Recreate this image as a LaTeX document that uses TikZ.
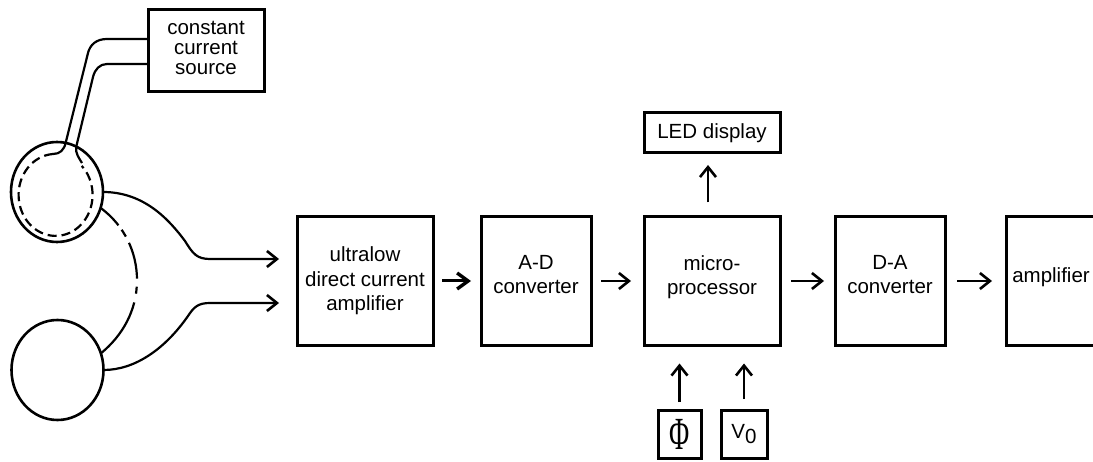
\documentclass[tikz,border=0pt]{standalone}
\usepackage{fontspec}
\setmainfont{Liberation Sans}
\newfontfamily\fontphi{Liberation Serif}
\usetikzlibrary{arrows.meta,shapes.geometric}
\begin{document}
\begin{tikzpicture}[x=1pt,y=1pt]

% définition des styles
\tikzstyle{bloc}=[rectangle,draw,line width=3pt,align=center,inner sep=0pt,outer sep=0pt,font=\fontsize{20.5}{24.5}\selectfont]
\tikzstyle{cercle}=[ellipse,draw,line width=2.6pt,inner sep=0pt,outer sep=0pt,minimum width=92pt,minimum height=100pt]
\tikzstyle{fil}=[line width=2.2pt]
\tikzstyle{fleche}=[-{Straight Barb[length=10pt,width=16pt,line width=2.6pt]},line width=2.2pt]
\tikzstyle{flechegrasse}=[-{Straight Barb[length=11pt,width=16pt,line width=3.4pt]},line width=3pt]

\clip (0,0) rectangle (1093,461);

% les blocs
\node [bloc,minimum width=116pt,minimum height=82pt,font=\fontsize{20.5}{20}\selectfont,text depth=6pt] (source) at (206,410) {constant\\current\\source};
\node [bloc,minimum width=136pt,minimum height=40pt] (led) at (712,328) {LED display};
\node [bloc,minimum width=136pt,minimum height=129pt] (ultra) at (365,180) {ultralow\\direct current\\amplifier};
\node [bloc,minimum width=110pt,minimum height=129pt,text depth=13pt] (ad) at (536,180) {A-D\\converter};
\node [bloc,minimum width=136pt,minimum height=129pt,text depth=12pt] (micro) at (712,180) {micro-\\processor};
\node [bloc,minimum width=110pt,minimum height=129pt,text depth=13pt] (da) at (890,180) {D-A\\converter};
\node [bloc,minimum width=90pt,minimum height=129pt,text depth=12pt] (ampli) at (1051,180) {amplifier};
\node [bloc,minimum width=43pt,minimum height=48pt] (phi) at (679.5,27) {\scalebox{.6}[1]{\fontsize{46}{46}\fontphi\selectfont Φ}};
\node [bloc,minimum width=46pt,minimum height=48pt] (vzero) at (744,27) {V\raisebox{-5pt}{0}};

% les cercles
\node [cercle] (haut) at (57,269) {};
\node [cercle] (bas) at (57.5,91) {};
\coordinate (entree1) at (279,202);
\coordinate (entree2) at (279,158);

% les fils
\draw[fil] ([yshift=12pt]source.west) -- (107,422) .. controls (96,422) and (90,416) .. (88,408) -- (haut.80) .. controls (64,311) and (60,307) .. (53,307);
\draw[fil] ([yshift=-13pt]source.west) -- (107,397) .. controls (100,397) and (95,392) .. (93,384) -- (haut.67) .. controls (75,308) and (79,303) .. (82,298);
\draw[fil,dash pattern=on 9pt off 5pt] (53,307) arc[start angle=94,end angle=405,x radius=37,y radius=41];
\draw[fil,dash pattern=on 25pt off 5.5pt on 8pt off 7pt on 37pt off 8pt on 7pt off 9pt on 80pt] (haut.-20) .. controls (125,235) and (137,208) .. (137,181) .. controls (137,150) and (122,125) .. (bas.21);

% les flèches
\draw[fleche] (haut.east) .. controls (145,269) and (170,240) .. (185,220) .. controls (193,207) and (197,202) .. (210,202) -- (entree1);
\draw[fleche] (bas.east) .. controls (135,91) and (165,112) .. (188,145) .. controls (194,154) and (198,158) .. (210,158) -- (entree2);
\draw[flechegrasse,shorten <=9pt,shorten >=10pt] (ultra) -- (ad);
\draw[fleche,shorten <=10pt,shorten >=13pt] (ad) -- (micro);
\draw[fleche,shorten <=11pt,shorten >=11pt] (micro) -- (da);
\draw[fleche,shorten <=12pt,shorten >=14pt] (da) -- (ampli);
\draw[fleche,shorten <=14pt,shorten >=12pt] ([xshift=-4pt]micro.north) -- ([xshift=-4pt]led.south);
\draw[fleche,shorten <=8pt,shorten >=18pt] (phi.north) -- (phi.north |- micro.south);
\draw[fleche,shorten <=11pt,shorten >=18pt] (vzero.north) -- (vzero.north |- micro.south);

\end{tikzpicture}
\end{document}
